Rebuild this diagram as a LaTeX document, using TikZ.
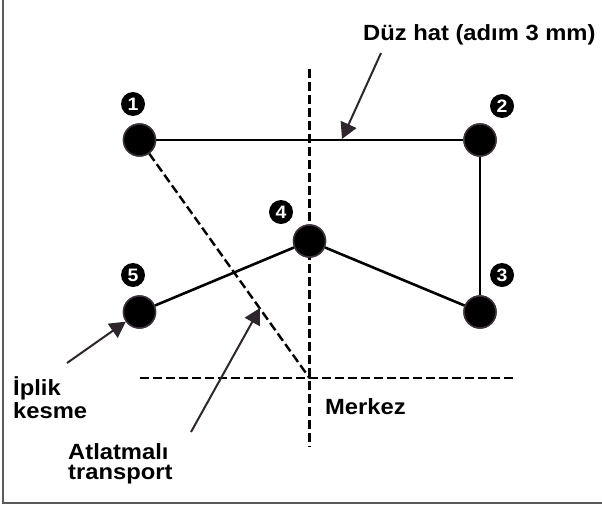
\documentclass[tikz,border=0pt]{standalone}
\usepackage{fontspec}
\setmainfont{Liberation Sans}[FakeStretch=1.08]
\usepackage{xcolor}
\usetikzlibrary{arrows.meta, positioning}
\definecolor{ringgray}{RGB}{60,50,60}
\definecolor{arrowgray}{RGB}{45,38,45}
\definecolor{framegray}{RGB}{90,90,90}

\begin{document}
\begin{tikzpicture}[
    x=1pt, y=-1pt,
    stitch/.style={circle, fill=black, draw=ringgray, line width=1.5pt, minimum size=32pt, inner sep=0pt},
    num/.style={circle, fill=black, minimum size=24pt, inner sep=0pt, text=white, font=\fontsize{18}{18}\selectfont\bfseries},
    lbl/.style={anchor=base west, inner sep=0pt, align=left, font=\fontsize{22}{23}\selectfont\bfseries},
    seam/.style={line width=2.6pt},
    skip/.style={line width=2.4pt, dash pattern=on 9pt off 4pt},
    pointer/.style={arrowgray, line width=2pt, -{Triangle[length=16pt, width=17pt]}}
]
\useasboundingbox (0,0) rectangle (602,506);

% Frame
\draw[framegray, line width=1.6pt] (3,0) -- (3,503) -- (602,503);

% Stitch points
\coordinate (ctr) at (309.5,378);
\coordinate (vtop) at (309.5,69);
\coordinate (vbot) at (309.5,447);
\coordinate (hleft) at (140,378);
\coordinate (hright) at (515,378);

% Centre lines
\draw[skip] (vtop) -- (vbot);
\draw[skip] (hleft) -- (hright);

\node (p1) [stitch] at (139.5,140) {};
\node (p2) [stitch] at (480,140) {};
\node (p3) [stitch] at (480,312) {};
\node (p4) [stitch] at (309.5,241) {};
\node (p5) [stitch] at (139.5,312) {};

% Seams
\draw[skip] (p1) -- (ctr);
\draw[seam] (p1) -- (p2);
\draw[seam] (p2) -- (p3);
\draw[seam] (p3) -- (p4);
\draw[seam] (p4) -- (p5);

% redraw points on top
\foreach \p in {p1,p2,p3,p4,p5}
    \node[stitch] at (\p) {};

% Numbers
\node (n1) [num] at (133,104) {1};
\node (n2) [num] at (502,106) {2};
\node (n3) [num] at (502,275) {3};
\node (n4) [num] at (281,212) {4};
\node (n5) [num] at (133,275) {5};

% Labels
\node (duz) [lbl] at (363,40) {Düz hat (adım 3 mm)};
\node (merkez) [lbl] at (325,414) {Merkez};
\node (iplik) [lbl] at (13,418) {İplik\\kesme};
\node (atlat) [lbl, font=\fontsize{22}{20}\selectfont\bfseries] at (68,479) {Atlatmalı\\transport};

% Pointers
\coordinate (duz-tail) at (381,53);
\coordinate (duz-tip) at (342,139);
\coordinate (iplik-tail) at (67,363);
\coordinate (atlat-tail) at (191,432);
\coordinate (atlat-tip) at (260,308);

\draw[pointer] (duz-tail) -- (duz-tip);
\draw[pointer] (iplik-tail) -- (p5);
\draw[pointer] (atlat-tail) -- (atlat-tip);

\end{tikzpicture}
\end{document}
